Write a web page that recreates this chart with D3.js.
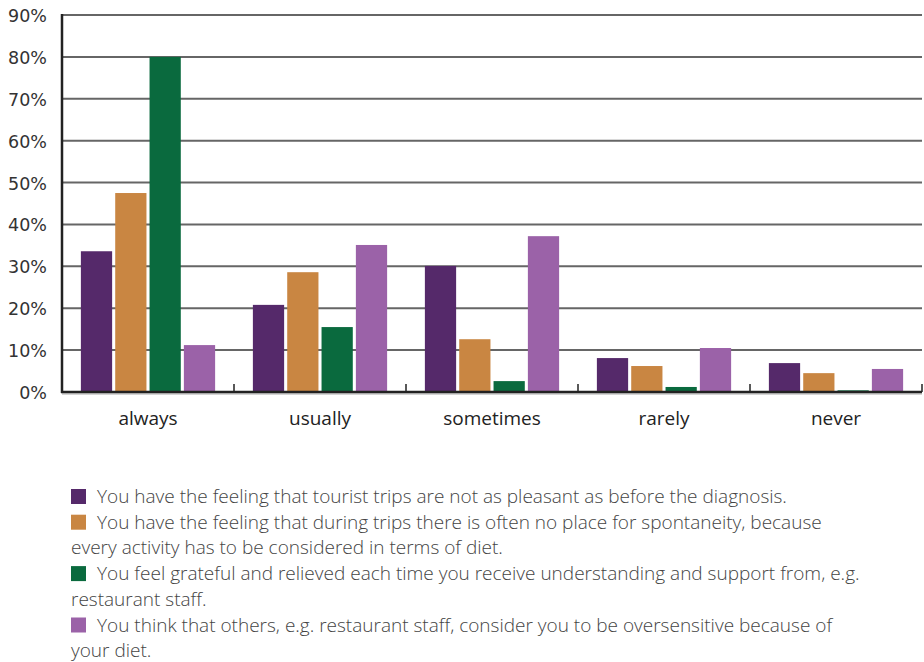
<!DOCTYPE html>
<html>
<head>
<meta charset="utf-8">
<script src="https://cdn.jsdelivr.net/npm/d3@7"></script>
<style>
  html, body { margin: 0; padding: 0; background: #fff; }
  svg { display: block; }
</style>
</head>
<body>
<svg id="chart" width="924" height="662"></svg>
<script>
// Answer categories along the x axis
const categories = ["always", "usually", "sometimes", "rarely", "never"];

// Share of respondents (%) for each statement, per category
const seriesTrips = [33.6, 20.8, 30.1, 8.1, 6.9];
const seriesSpontaneity = [47.5, 28.6, 12.6, 6.2, 4.5];
const seriesGrateful = [80.0, 15.5, 2.6, 1.2, 0.4];
const seriesOversensitive = [11.2, 35.1, 37.2, 10.5, 5.5];

const yTicks = [0, 10, 20, 30, 40, 50, 60, 70, 80, 90];

const seriesColors = ["#55296a", "#c98642", "#0a6a3e", "#9b62a8"];

// Legend entries, pre-broken into display lines
const legendLines = [
  ["You have the feeling that tourist trips are not as pleasant as before the diagnosis."],
  ["You have the feeling that during trips there is often no place for spontaneity, because",
   "every activity has to be considered in terms of diet."],
  ["You feel grateful and relieved each time you receive understanding and support from, e.g.",
   "restaurant staff."],
  ["You think that others, e.g. restaurant staff, consider you to be oversensitive because of",
   "your diet."]
];

const series = [seriesTrips, seriesSpontaneity, seriesGrateful, seriesOversensitive];

const svg = d3.select("#chart");
const margin = { left: 62, right: 2, top: 15 };
const W = 924;
const plotBottom = 392;

const x = d3.scaleBand()
  .domain(categories)
  .range([margin.left, W - margin.right])
  .paddingInner(0).paddingOuter(0);

const x1 = d3.scaleBand()
  .domain(d3.range(series.length))
  .range([0, x.bandwidth()])
  .paddingOuter(0.55)
  .paddingInner(0.09);

const y = d3.scaleLinear().domain([0, 90]).range([plotBottom, margin.top]);

// Horizontal gridlines
svg.append("g")
  .selectAll("line")
  .data(yTicks.filter(d => d > 0))
  .join("line")
  .attr("x1", margin.left).attr("x2", W - margin.right)
  .attr("y1", d => y(d)).attr("y2", d => y(d))
  .attr("stroke", "#666").attr("stroke-width", 2);

// Bars
const groups = svg.append("g")
  .selectAll("g")
  .data(categories)
  .join("g")
  .attr("transform", d => `translate(${x(d)},0)`);

groups.selectAll("rect")
  .data((c, ci) => series.map((s, si) => ({ si, v: s[ci] })))
  .join("rect")
  .attr("x", d => x1(d.si))
  .attr("width", x1.bandwidth())
  .attr("y", d => y(d.v))
  .attr("height", d => plotBottom - y(d.v))
  .attr("fill", d => seriesColors[d.si]);

// Y axis labels
svg.append("g")
  .selectAll("text")
  .data(yTicks)
  .join("text")
  .attr("x", 47)
  .attr("y", d => y(d) + 7)
  .attr("text-anchor", "end")
  .attr("font-family", "DejaVu Sans, Verdana, sans-serif")
  .attr("font-size", 17.5)
  .attr("fill", "#333")
  .text(d => d + "%");

// Category tick marks between groups
svg.append("g")
  .selectAll("line")
  .data(categories.slice(1).concat([null]))
  .join("line")
  .attr("x1", d => d ? x(d) : W - margin.right)
  .attr("x2", d => d ? x(d) : W - margin.right)
  .attr("y1", plotBottom - 8).attr("y2", plotBottom)
  .attr("stroke", "#222").attr("stroke-width", 1.5);

// Axis lines
svg.append("line")
  .attr("x1", margin.left).attr("x2", W - margin.right)
  .attr("y1", plotBottom + 2).attr("y2", plotBottom + 2)
  .attr("stroke", "#aaa").attr("stroke-width", 1);
svg.append("line")
  .attr("x1", margin.left - 1).attr("x2", W - margin.right)
  .attr("y1", plotBottom).attr("y2", plotBottom)
  .attr("stroke", "#222").attr("stroke-width", 2.5);
svg.append("line")
  .attr("x1", margin.left).attr("x2", margin.left)
  .attr("y1", margin.top - 1).attr("y2", plotBottom + 1)
  .attr("stroke", "#222").attr("stroke-width", 2.5);

// Category labels
svg.append("g")
  .selectAll("text")
  .data(categories)
  .join("text")
  .attr("x", d => x(d) + x.bandwidth() / 2)
  .attr("y", 425)
  .attr("text-anchor", "middle")
  .attr("font-family", "Open Sans, sans-serif")
  .attr("font-size", 19)
  .attr("fill", "#222")
  .text(d => d);

// Legend
const legend = svg.append("g").attr("font-family", "Open Sans, sans-serif")
  .attr("font-weight", 300).attr("font-size", 19).attr("fill", "#444");
let lineIdx = 0;
const lineH = 25.7, firstBaseline = 503;
legendLines.forEach((lines, si) => {
  const base = firstBaseline + lineIdx * lineH;
  legend.append("rect")
    .attr("x", 71).attr("y", base - 14)
    .attr("width", 15).attr("height", 15)
    .attr("fill", seriesColors[si]);
  lines.forEach((t, li) => {
    legend.append("text")
      .attr("x", li === 0 ? 97 : 71)
      .attr("y", firstBaseline + lineIdx * lineH)
      .text(t);
    lineIdx++;
  });
});
</script>
</body>
</html>
